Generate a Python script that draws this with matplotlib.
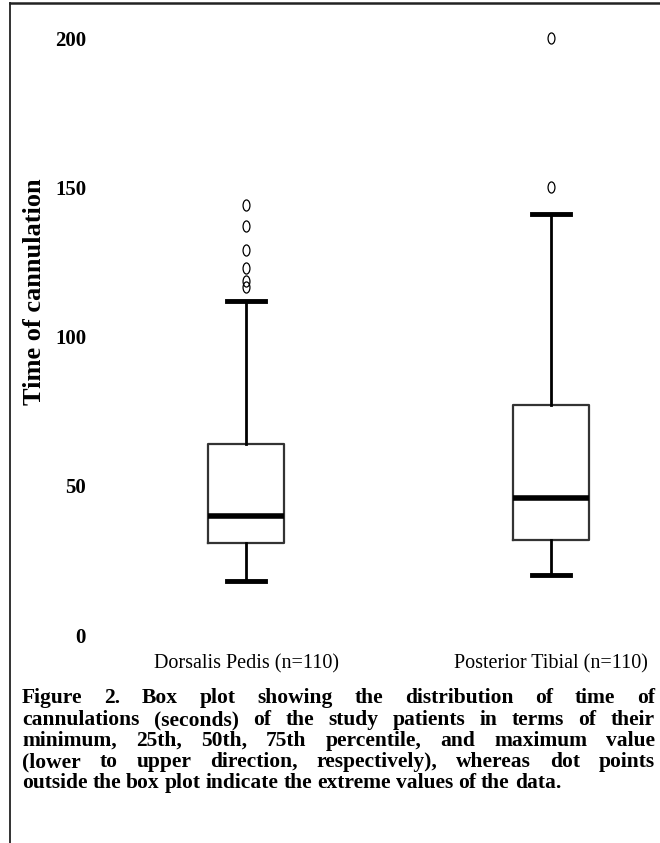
import matplotlib
matplotlib.use("Agg")
import matplotlib.pyplot as plt
from matplotlib.lines import Line2D
from matplotlib.path import Path
from matplotlib.transforms import Affine2D

# values (seconds)
groups = ["Dorsalis Pedis (n=110)", "Posterior Tibial (n=110)"]
whis_lo = [18, 20]
q1 = [31, 32]
median = [40, 46]
q3 = [64, 77]
whis_hi = [112, 141]
extremes = [[116.5, 118.5, 123, 129, 137, 144], [150, 200]]
y_ticks = [0, 50, 100, 150, 200]

caption = [
    "Figure 2. Box plot showing the distribution of time of",
    "cannulations (seconds) of the study patients in terms of their",
    "minimum, 25th, 50th, 75th percentile, and maximum value",
    "(lower to upper direction, respectively), whereas dot points",
    "outside the box plot indicate the extreme values of the data.",
]

W, H = 660, 843
fig = plt.figure(figsize=(W / 100, H / 100), dpi=100)
ax = fig.add_axes([100 / W, (H - 650) / H, 560 / W, 640 / H])

stats = []
for i in range(len(groups)):
    stats.append(dict(med=median[i], q1=q1[i], q3=q3[i],
                      whislo=whis_lo[i], whishi=whis_hi[i],
                      fliers=extremes[i], label=groups[i]))

# small upright ellipse for the extreme values
oval = Path.unit_circle().transformed(Affine2D().scale(0.62, 1.0))

ax.bxp(stats, positions=[1, 2], widths=0.25, capwidths=0.125,
       boxprops=dict(color="#333333", linewidth=1.6),
       medianprops=dict(color="black", linewidth=4),
       whiskerprops=dict(color="black", linewidth=2),
       capprops=dict(color="black", linewidth=3.5),
       flierprops=dict(marker=oval, markersize=8, markerfacecolor="none",
                       markeredgecolor="black", markeredgewidth=0.9))

ax.set_xlim(0.5213, 2.3574)
ax.set_ylim(-5, 209.4)
for s in ax.spines.values():
    s.set_visible(False)
ax.tick_params(length=0)
ax.set_yticks(y_ticks)
ax.set_yticklabels([str(v) for v in y_ticks], family="Liberation Serif",
                   fontweight="bold", fontsize=15)
ax.tick_params(axis="y", pad=10)
ax.set_xticks([1, 2])
ax.set_xticklabels(groups, family="Liberation Serif", fontsize=14.5)
ax.tick_params(axis="x", pad=3)

fig.text(35 / W, 1 - 292 / H, "Time of cannulation", rotation=90,
         family="Liberation Serif", fontweight="bold", fontsize=19,
         ha="center", va="center")

# frame lines on the left and top of the figure
fig.add_artist(Line2D([10 / W, 10 / W], [0, 1 - 3 / H], color="#222222", lw=1.3))
fig.add_artist(Line2D([10 / W, 1], [1 - 3 / H, 1 - 3 / H], color="#222222", lw=1.8))

# justified caption, words placed one by one on a shared baseline
fig.canvas.draw()
r = fig.canvas.get_renderer()
left, right = 22, 655
baselines = [703, 725, 746, 767, 788]
for i, line in enumerate(caption):
    words = line.split()
    texts = [fig.text(0, 1 - baselines[i] / H, w, family="Liberation Serif",
                      fontweight="bold", fontsize=15.5, va="baseline")
             for w in words]
    widths = [t.get_window_extent(r).width for t in texts]
    if i < len(caption) - 1:
        gap = (right - left - sum(widths)) / (len(words) - 1)
    else:
        gap = 5
    x = left
    for t, w in zip(texts, widths):
        t.set_x(x / W)
        x += w + gap

fig.savefig("out.png", dpi=100)
